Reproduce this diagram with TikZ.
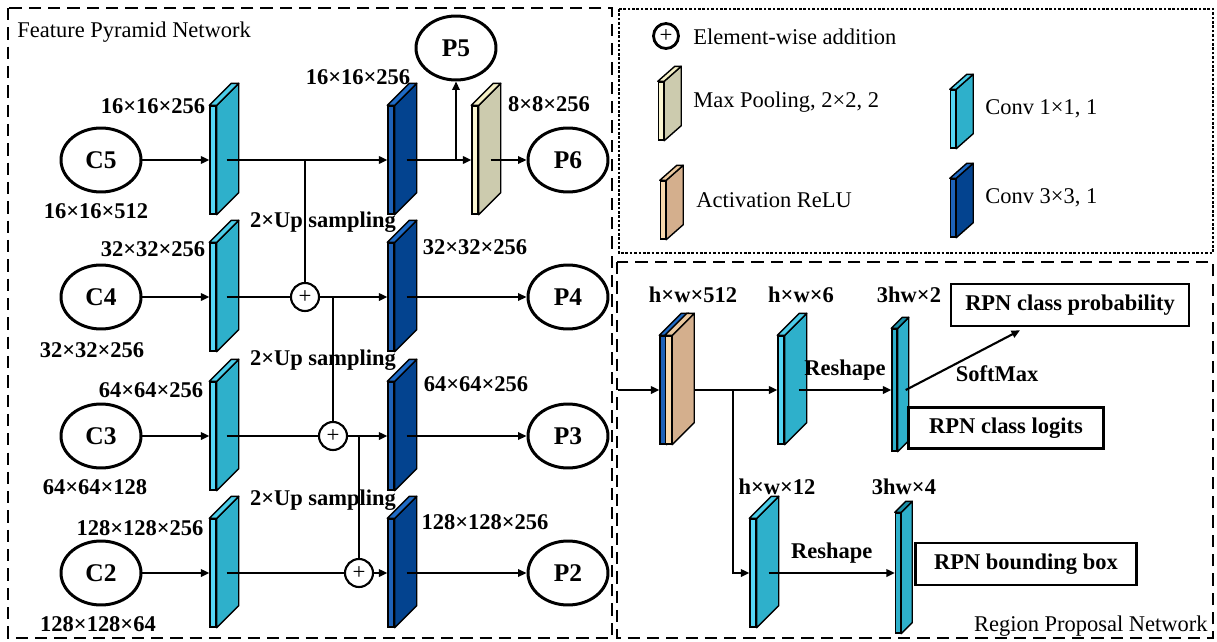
\documentclass[tikz,border=0pt]{standalone}
\usepackage{fontspec}
\setmainfont{Liberation Serif}
\usetikzlibrary{arrows.meta,positioning,calc,shapes.geometric}
\definecolor{convAfront}{HTML}{55D6F4}
\definecolor{convAside}{HTML}{2EB0CB}
\definecolor{convAtop}{HTML}{4CCDE9}
\definecolor{convBfront}{HTML}{1E62B8}
\definecolor{convBside}{HTML}{03438F}
\definecolor{convBtop}{HTML}{1F6BC6}
\definecolor{convCfront}{HTML}{2EB0CB}
\definecolor{convCside}{HTML}{2EB0CB}
\definecolor{convCtop}{HTML}{1B8FA8}
\definecolor{poolfront}{HTML}{FAF6D2}
\definecolor{poolside}{HTML}{CCCBAE}
\definecolor{pooltop}{HTML}{F4EFC6}
\definecolor{relufront}{HTML}{F8D8AC}
\definecolor{reluside}{HTML}{D4AF8D}
\definecolor{relutop}{HTML}{EBC9A0}
\tikzset{
  lbl/.style       = {font=\fontsize{12.8}{15}\selectfont\bfseries, inner sep=0pt},
  plain/.style     = {font=\fontsize{12.8}{15}\selectfont, inner sep=0pt},
  fmap/.style      = {draw, ellipse, line width=1.7pt, minimum width=1.6cm,
                      minimum height=1.28cm, inner sep=0pt,
                      font=\fontsize{14.5}{16}\selectfont\bfseries},
  addnode/.style   = {draw, circle, line width=1.2pt, minimum size=0.56cm,
                      inner sep=0pt, font=\fontsize{13}{15}\selectfont},
  outbox/.style    = {draw, rectangle, line width=1.5pt, inner sep=0pt,
                      font=\fontsize{12.8}{15}\selectfont\bfseries},
  slabfront/.style = {draw, rectangle, line width=0.8pt, inner sep=0pt,
                      minimum width=0.12cm, minimum height=2.16cm},
  sig/.style       = {-{Triangle[length=1.7mm,width=1.5mm]}, line width=1.2pt},
  wire/.style      = {line width=1.2pt},
  frame/.style     = {line width=1.1pt, dash pattern=on 7pt off 4pt},
  keyframe/.style  = {line width=0.9pt, dash pattern=on 1.5pt off 1pt},
}
% slab: [front size]{name}{front centre}{colour set}{depth}
\newcommand{\slab}[5][]{%
  \node[slabfront, fill=#4front, #1] (#2) at (#3) {};
  \filldraw[line width=0.8pt, fill=#4side, line join=round]
    (#2.north east) -- ++(#5) -- ($(#2.south east)+(#5)$) -- (#2.south east) -- cycle;
  \filldraw[line width=0.8pt, fill=#4top, line join=round]
    (#2.north west) -- ++(#5) -- ($(#2.north east)+(#5)$) -- (#2.north east) -- cycle;
}

\begin{document}
\begin{tikzpicture}[x=0.02cm, y=-0.02cm]
\useasboundingbox (0,0) rectangle (1217,642);
% ---- frames ----
\draw[frame] (8,8) rectangle (612,638);
\draw[frame] (617,262) rectangle (1213,638);
\draw[keyframe] (619,9) rectangle (1213,253);
\node[plain, anchor=west] (fpntitle) at (17,32) {Feature Pyramid Network};
\node[plain, anchor=east] (rpntitle) at (1208,626) {Region Proposal Network};

% ---- feature pyramid ----
\node[fmap] (c5) at (101,160) {C5};
\node[fmap] (c4) at (101,297) {C4};
\node[fmap] (c3) at (101,436) {C3};
\node[fmap] (c2) at (101,573) {C2};
\slab{lat5}{213,160}{convA}{22,-22}
\slab{lat4}{213,297}{convA}{22,-22}
\slab{lat3}{213,436}{convA}{22,-22}
\slab{lat2}{213,573}{convA}{22,-22}
\slab{sm5}{391,160}{convB}{22,-22}
\slab{sm4}{391,297}{convB}{22,-22}
\slab{sm3}{391,436}{convB}{22,-22}
\slab{sm2}{391,573}{convB}{22,-22}
\slab{pool6}{475,160}{pool}{22,-22}
\node[fmap] (p5) at (456,48) {P5};
\node[fmap] (p6) at (568,160) {P6};
\node[fmap] (p4) at (568,297) {P4};
\node[fmap] (p3) at (568,436) {P3};
\node[fmap] (p2) at (568,573) {P2};
\node[addnode] (add4) at (305,297) {+};
\node[addnode] (add3) at (333,436) {+};
\node[addnode] (add2) at (359,573) {+};

\draw[sig] (c5) -- (lat5);
\draw[sig] (c4) -- (lat4);
\draw[sig] (c3) -- (lat3);
\draw[sig] (c2) -- (lat2);
\draw[sig] ($(lat5.east)+(10,0)$) -- (sm5);
\draw[wire] ($(lat4.east)+(10,0)$) -- (add4);
\draw[wire] ($(lat3.east)+(10,0)$) -- (add3);
\draw[wire] ($(lat2.east)+(10,0)$) -- (add2);
\draw[sig] (add4) -- (sm4);
\draw[sig] (add3) -- (sm3);
\draw[sig] (add2) -- (sm2);
\draw[wire] (add4 |- lat5) -- (add4);
\draw[wire] (add3 |- add4) -- (add3);
\draw[wire] (add2 |- add3) -- (add2);
\draw[sig] ($(sm5.east)+(12,0)$) -- (pool6);
\draw[sig] (p5 |- sm5) -- (p5);
\draw[sig] ($(pool6.east)+(12,0)$) -- (p6);
\draw[sig] ($(sm4.east)+(12,0)$) -- (p4);
\draw[sig] ($(sm3.east)+(12,0)$) -- (p3);
\draw[sig] ($(sm2.east)+(12,0)$) -- (p2);

\node[lbl] (d5in) at (96,211) {16×16×512};
\node[lbl] (d4in) at (92,350) {32×32×256};
\node[lbl] (d3in) at (95,487) {64×64×128};
\node[lbl] (d2in) at (98,624) {128×128×64};
\node[lbl] (d5lat) at (153,106) {16×16×256};
\node[lbl] (d4lat) at (153,249) {32×32×256};
\node[lbl] (d3lat) at (151,390) {64×64×256};
\node[lbl] (d2lat) at (140,528) {128×128×256};
\node[lbl] (d5sm) at (358,77) {16×16×256};
\node[lbl] (d4sm) at (475,247) {32×32×256};
\node[lbl] (d3sm) at (476,384) {64×64×256};
\node[lbl] (d2sm) at (485,522) {128×128×256};
\node[lbl] (d6) at (549,104) {8×8×256};
\node[lbl] (up4) at (323,222) {2×Up sampling};
\node[lbl] (up3) at (323,360) {2×Up sampling};
\node[lbl] (up2) at (323,500) {2×Up sampling};

% ---- legend ----
\node[addnode, line width=1.6pt, minimum size=0.5cm] (addkey) at (666,36) {+};
\node[plain, anchor=west] (addtxt) at (693,37) {Element-wise addition};
\slab[minimum width=0.1cm, minimum height=1.16cm]{poolkey}{661,111}{pool}{17,-15}
\node[plain, anchor=west] (pooltxt) at (693,102) {Max Pooling, 2×2, 2};
\slab[minimum width=0.1cm, minimum height=1.16cm]{relukey}{663,210}{relu}{17,-15}
\node[plain, anchor=west] (relutxt) at (696,200) {Activation ReLU};
\slab[minimum width=0.1cm, minimum height=1.16cm]{convakey}{953,119}{convA}{17,-15}
\node[plain, anchor=west] (convatxt) at (985,109) {Conv 1×1, 1};
\slab[minimum width=0.1cm, minimum height=1.16cm]{convbkey}{953,208}{convB}{17,-15}
\node[plain, anchor=west] (convbtxt) at (985,198) {Conv 3×3, 1};

% ---- region proposal ----
\coordinate (rpnin) at (618,390);
\slab{rpnconv}{663,390}{convB}{22,-22}
\slab{rpnrelu}{668.5,390}{relu}{22,-22}
\slab{score}{781,390}{convA}{22,-22}
\slab[minimum width=0.1cm, minimum height=2.44cm]{scoreflat}{894.5,390}{convC}{11,-11}
\slab{delta}{753,573}{convA}{22,-22}
\slab[minimum width=0.1cm, minimum height=2.4cm]{deltaflat}{898,573}{convC}{11,-11}
\coordinate (split) at ($(rpnrelu.east)+(61,0)$);
\node[outbox, minimum width=4.76cm, minimum height=0.84cm] (cprob) at (1070,305) {RPN class probability};
\node[outbox, minimum width=3.9cm, minimum height=0.82cm] (clogit) at (1006,428) {RPN class logits};
\node[outbox, minimum width=4.42cm, minimum height=0.84cm] (bbox) at (1026,564) {RPN bounding box};

\draw[sig] (rpnin) -- (rpnconv);
\draw[sig] ($(rpnrelu.east)+(22,0)$) -- (score);
\draw[sig] (split) |- (delta);
\draw[sig] ($(score.east)+(14,0)$) -- node[lbl, above=5pt]{Reshape} (scoreflat);
\draw[sig] ($(delta.east)+(12,0)$) -- node[lbl, above=5pt]{Reshape} (deltaflat);
\draw[sig] ($(scoreflat.east)+(8,0)$) -- node[lbl, pos=0.43, anchor=north west]{SoftMax} ($(cprob.south)+(-50,3)$);

\node[lbl] (dconv) at (693,295) {h×w×512};
\node[lbl] (dscore) at (801,295) {h×w×6};
\node[lbl] (dscoreflat) at (909,295) {3hw×2};
\node[lbl] (ddelta) at (777,487) {h×w×12};
\node[lbl] (ddeltaflat) at (904,487) {3hw×4};
\end{tikzpicture}
\end{document}
